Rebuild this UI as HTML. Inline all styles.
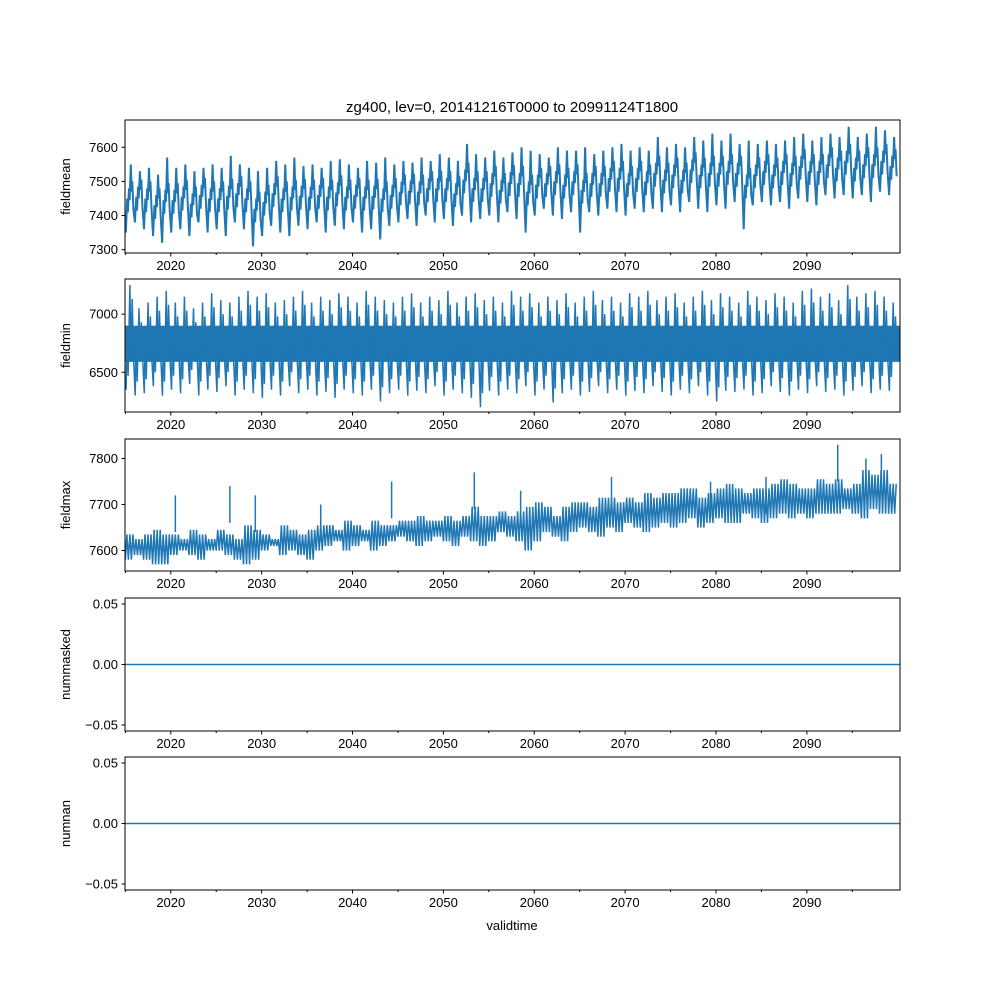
<!DOCTYPE html>
<html><head><meta charset="utf-8"><style>
body{margin:0;background:#fff}
svg text{font-family:"Liberation Sans","DejaVu Sans",sans-serif;fill:#000}
</style></head><body>
<svg id="fig" width="1000" height="1000" xmlns="http://www.w3.org/2000/svg">
<rect width="1000" height="1000" fill="#fff"/>
<text x="512" y="112" font-size="15" text-anchor="middle">zg400, lev=0, 20141216T0000 to 20991124T1800</text>
<text x="512" y="930" font-size="13" text-anchor="middle">validtime</text>
</svg>
<script>
const years=[];for(let y=2015;y<=2099;y++)years.push(y);
const xTicks=[2020,2030,2040,2050,2060,2070,2080,2090];
const xMinor=[2015,2025,2035,2045,2055,2065,2075,2085,2095];
const meanMax=[7550,7530,7540,7520,7570,7540,7550,7530,7540,7550,7540,7575,7550,7540,7530,7540,7560,7550,7570,7545,7550,7540,7560,7565,7550,7540,7560,7555,7570,7550,7560,7555,7570,7560,7580,7570,7560,7610,7580,7570,7590,7570,7585,7600,7590,7580,7570,7600,7590,7590,7600,7580,7590,7600,7610,7590,7600,7590,7630,7600,7610,7600,7630,7620,7640,7620,7640,7610,7620,7610,7620,7610,7620,7630,7640,7620,7630,7640,7630,7660,7630,7640,7660,7650,7630];
const meanMin=[7350,7380,7360,7340,7320,7350,7360,7340,7380,7350,7360,7340,7380,7360,7310,7340,7370,7350,7340,7370,7360,7380,7350,7370,7360,7380,7350,7360,7330,7370,7380,7390,7370,7400,7380,7390,7370,7400,7380,7390,7400,7380,7410,7390,7350,7400,7420,7400,7390,7410,7350,7410,7400,7420,7410,7400,7420,7410,7420,7410,7430,7410,7440,7420,7410,7430,7420,7440,7360,7430,7440,7430,7440,7420,7450,7440,7430,7460,7450,7460,7450,7460,7440,7470,7460];
const minMax=[7250,7050,7100,7150,7200,7100,7150,7050,7100,7180,7120,7100,7150,7200,7150,7180,7100,7120,7150,7200,7100,7150,7120,7180,7150,7100,7200,7150,7120,7100,7150,7180,7100,7150,7120,7200,7100,7150,7180,7120,7150,7100,7200,7150,7180,7100,7150,7120,7180,7100,7150,7200,7120,7150,7100,7180,7150,7200,7120,7150,7180,7100,7150,7200,7120,7180,7150,7100,7200,7150,7120,7180,7150,7100,7200,7220,7150,7180,7120,7250,7150,7180,7200,7150,7100];
const minMin=[6350,6300,6320,6380,6300,6350,6320,6400,6300,6350,6330,6380,6300,6350,6320,6280,6350,6300,6380,6320,6350,6300,6330,6280,6350,6320,6300,6350,6250,6320,6350,6300,6340,6320,6380,6300,6350,6320,6280,6200,6340,6300,6350,6320,6380,6300,6350,6240,6320,6350,6300,6330,6380,6320,6350,6300,6340,6320,6380,6330,6300,6350,6320,6380,6300,6250,6340,6330,6350,6300,6320,6380,6330,6300,6350,6320,6380,6330,6350,6300,6340,6380,6320,6350,6340];
const minBand=[6590,6900];
const maxLo=[7580,7590,7580,7570,7570,7590,7600,7590,7580,7600,7600,7590,7580,7570,7580,7600,7610,7590,7600,7590,7580,7600,7610,7620,7600,7610,7620,7600,7610,7620,7630,7620,7610,7620,7630,7620,7610,7630,7620,7610,7620,7640,7630,7620,7600,7620,7640,7630,7620,7640,7650,7640,7630,7650,7640,7660,7650,7640,7650,7660,7650,7660,7670,7650,7660,7670,7660,7660,7680,7670,7660,7670,7680,7670,7680,7670,7680,7680,7680,7690,7680,7670,7690,7680,7680];
const maxHi=[7650,7640,7650,7660,7650,7650,7640,7660,7650,7640,7660,7650,7640,7670,7660,7650,7640,7670,7660,7650,7660,7670,7670,7660,7680,7670,7660,7680,7670,7670,7680,7680,7690,7680,7680,7690,7680,7690,7710,7690,7690,7700,7690,7700,7710,7720,7710,7690,7710,7720,7720,7710,7730,7730,7720,7730,7720,7740,7730,7740,7740,7750,7750,7730,7740,7750,7760,7750,7740,7750,7750,7760,7770,7760,7750,7750,7770,7760,7770,7750,7760,7790,7780,7790,7760];
const maxSpikeYears=[2020.5,2026.5,2029.3,2036.5,2044.3,2053.4,2058.5,2068.5,2079.4,2085.5,2093.4,2096.5,2098.2];
const maxSpikeVals=[7720,7740,7720,7700,7750,7770,7730,7760,7750,7760,7830,7800,7810];

const svg=document.getElementById('fig');const NS='http://www.w3.org/2000/svg';
function el(t,a,p){const e=document.createElementNS(NS,t);for(const k in a)e.setAttribute(k,a[k]);(p||svg).appendChild(e);return e;}
const X0=125,X1=900,T0=2014.96,T1=2100.25;
const xs=t=>X0+(t-T0)/(T1-T0)*(X1-X0);
function panel(name,top,bot,vmin,vmax,yt,ytl,ylab){
  const g=el('g',{});
  const ys=v=>bot-(v-vmin)/(vmax-vmin)*(bot-top);
  const data=el('g',{'clip-path':'url(#c'+name+')'},g);
  const cp=el('clipPath',{id:'c'+name},g);el('rect',{x:X0,y:top,width:X1-X0,height:bot-top},cp);
  yt.forEach((v,i)=>{const y=ys(v);el('line',{x1:X0-3.5,x2:X0,y1:y,y2:y,stroke:'#000'},g);
    const t=el('text',{x:X0-7,y:y+4.5,'font-size':13,'text-anchor':'end'},g);t.textContent=ytl[i];
    });
  xTicks.forEach(v=>{const x=xs(v);el('line',{x1:x,x2:x,y1:bot,y2:bot+3.5,stroke:'#000'},g);
    const t=el('text',{x:x,y:bot+17,'font-size':13,'text-anchor':'middle'},g);t.textContent=v;
    });
  xMinor.forEach(v=>{const x=xs(v);el('line',{x1:x,x2:x,y1:bot,y2:bot+2,stroke:'#000'},g);});
  const yl=el('text',{x:0,y:0,'font-size':13,'text-anchor':'middle',transform:`translate(${X0-55},${(top+bot)/2}) rotate(-90)`},g);
  yl.textContent=ylab;
  return {g,data,ys,frame:()=>el('rect',{x:X0,y:top,width:X1-X0,height:bot-top,fill:'none',stroke:'#000','stroke-width':1},g)};
}
const C='#1f77b4';
let p=panel('fieldmean',120,253,7290.3,7680,[7300,7400,7500,7600],['7300','7400','7500','7600'],'fieldmean');
let pts=[];years.forEach((y,i)=>{const mid=(meanMax[i]+meanMin[i])/2;
 pts.push([xs(y+0.05),p.ys(meanMin[i])],[xs(y+0.2),p.ys(mid)],[xs(y+0.28),p.ys(mid-40)],[xs(y+0.4),p.ys(mid+30)],[xs(y+0.47),p.ys(mid-5)],[xs(y+0.6),p.ys(meanMax[i])],[xs(y+0.7),p.ys(mid+20)],[xs(y+0.76),p.ys(mid+50)],[xs(y+0.88),p.ys(mid-30)]);});
let l=el('polyline',{points:pts.map(q=>q.join(',')).join(' '),fill:'none',stroke:C,'stroke-width':2},p.data);
p.frame();
p=panel('fieldmin',279,412,6158.6,7302,[6500,7000],['6500','7000'],'fieldmin');
let b=el('rect',{x:X0,width:X1-X0,y:p.ys(minBand[1]),height:p.ys(minBand[0])-p.ys(minBand[1]),fill:C},p.data);

pts=[];years.forEach((y,i)=>{pts.push([xs(y+0.08),p.ys(minMin[i])],[xs(y+0.2),p.ys(minBand[1])],[xs(y+0.3),p.ys(minMin[i]+120)],[xs(y+0.5),p.ys(minMax[i])],[xs(y+0.62),p.ys(minBand[0])],[xs(y+0.75),p.ys(minMax[i]-120)],[xs(y+0.9),p.ys(minBand[0]+40)]);});
l=el('polyline',{points:pts.map(q=>q.join(',')).join(' '),fill:'none',stroke:C,'stroke-width':1.5},p.data);
p.frame();
p=panel('fieldmax',439,571,7555.5,7842.5,[7600,7700,7800],['7600','7700','7800'],'fieldmax');
pts=[];years.forEach((y,i)=>{for(let k=0;k<6;k++){const v=k%2?maxHi[i]-15:maxLo[i];pts.push([xs(y+k/6),p.ys(v)]);}});
l=el('polyline',{points:pts.map(q=>q.join(',')).join(' '),fill:'none',stroke:C,'stroke-width':1.5},p.data);

maxSpikeYears.forEach((t,i)=>{const s=el('line',{x1:xs(t),x2:xs(t),y1:p.ys(maxSpikeVals[i]),y2:p.ys(maxSpikeVals[i]-80),stroke:C,'stroke-width':1.5},p.data);
 });
p.frame();
[['nummasked',598,731],['numnan',757,890]].forEach(([n,t,bt])=>{
 const q=panel(n,t,bt,-0.055,0.055,[-0.05,0,0.05],['−0.05','0.00','0.05'],n);
 const z=el('line',{x1:X0,x2:X1,y1:q.ys(0),y2:q.ys(0),stroke:C,'stroke-width':1.5},q.data);
 q.frame();});
</script>
</body></html>
